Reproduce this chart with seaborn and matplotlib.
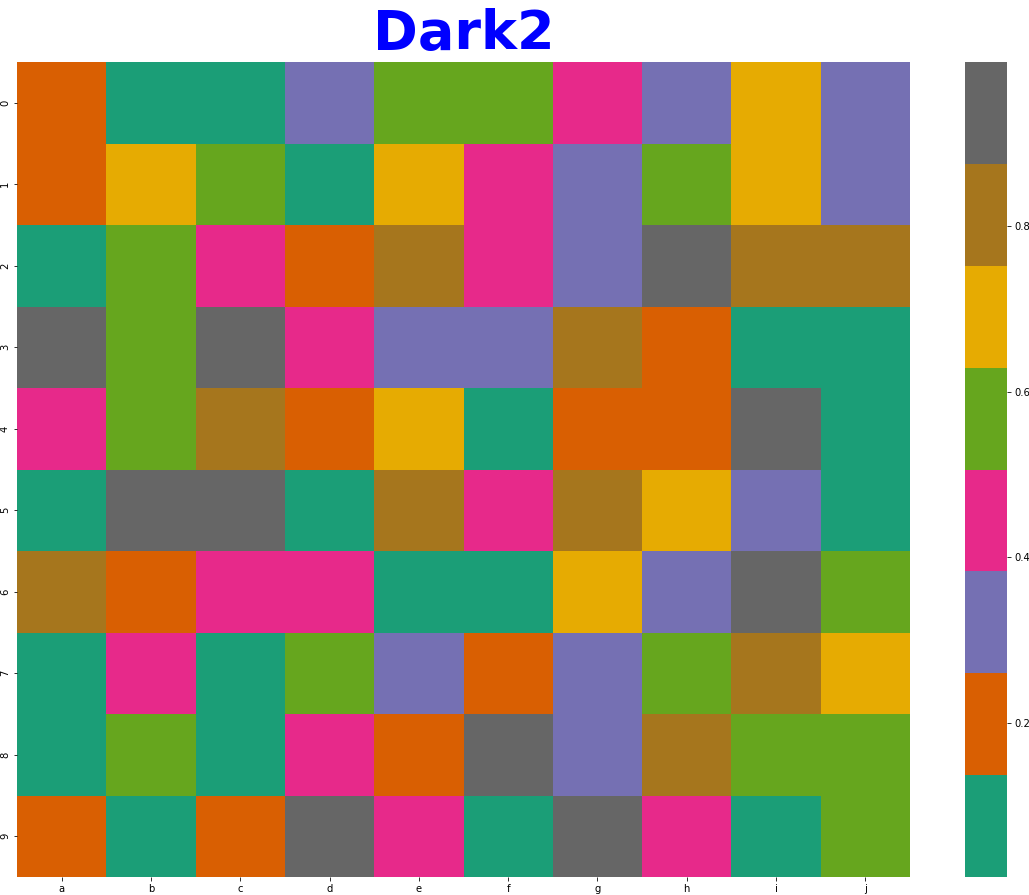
import numpy as np
import pandas as pd
import matplotlib
matplotlib.use('Agg')
import matplotlib.pyplot as plt
import seaborn as sns

# values (Dark2 colormap)
row_labels = ['0', '1', '2', '3', '4', '5', '6', '7', '8', '9']
col_labels = ['a', 'b', 'c', 'd', 'e', 'f', 'g', 'h', 'i', 'j']

row_0 = [0.21, 0.06, 0.09, 0.31, 0.55, 0.58, 0.44, 0.34, 0.69, 0.30]
row_1 = [0.18, 0.72, 0.53, 0.0145, 0.66, 0.47, 0.36, 0.60, 0.71, 0.28]
row_2 = [0.11, 0.57, 0.42, 0.24, 0.80, 0.46, 0.32, 0.93, 0.77, 0.84]
row_3 = [0.96, 0.54, 0.89, 0.49, 0.29, 0.35, 0.83, 0.19, 0.04, 0.12]
row_4 = [0.40, 0.61, 0.79, 0.22, 0.74, 0.07, 0.16, 0.25, 0.9976, 0.10]
row_5 = [0.03, 0.91, 0.95, 0.13, 0.86, 0.43, 0.81, 0.68, 0.33, 0.08]
row_6 = [0.85, 0.20, 0.45, 0.39, 0.05, 0.09, 0.65, 0.27, 0.92, 0.56]
row_7 = [0.12, 0.48, 0.02, 0.59, 0.37, 0.17, 0.30, 0.52, 0.76, 0.70]
row_8 = [0.06, 0.62, 0.10, 0.44, 0.23, 0.89, 0.34, 0.82, 0.55, 0.58]
row_9 = [0.15, 0.04, 0.20, 0.98, 0.41, 0.11, 0.90, 0.47, 0.07, 0.51]

df = pd.DataFrame([row_0, row_1, row_2, row_3, row_4, row_5, row_6, row_7, row_8, row_9],
                  index=row_labels, columns=col_labels)

fig = plt.figure(figsize=(1029 / 72, 895 / 72), dpi=72)
ax = fig.add_axes([0.0165, 0.0201, 0.8679, 0.9106])
cax = fig.add_axes([0.9378, 0.0201, 0.0408, 0.9106])

sns.heatmap(df, cmap='Dark2', ax=ax, cbar_ax=cax)
cax.set_yticks([0.2, 0.4, 0.6, 0.8])
cax.set_yticklabels(['0.2', '0.4', '0.6', '0.8'])

ax.set_title('Dark2', fontsize=54, color='blue', fontweight='bold',
             family=['Comic Sans MS', 'DejaVu Sans'], pad=13)

plt.savefig('out.png', dpi=72)
